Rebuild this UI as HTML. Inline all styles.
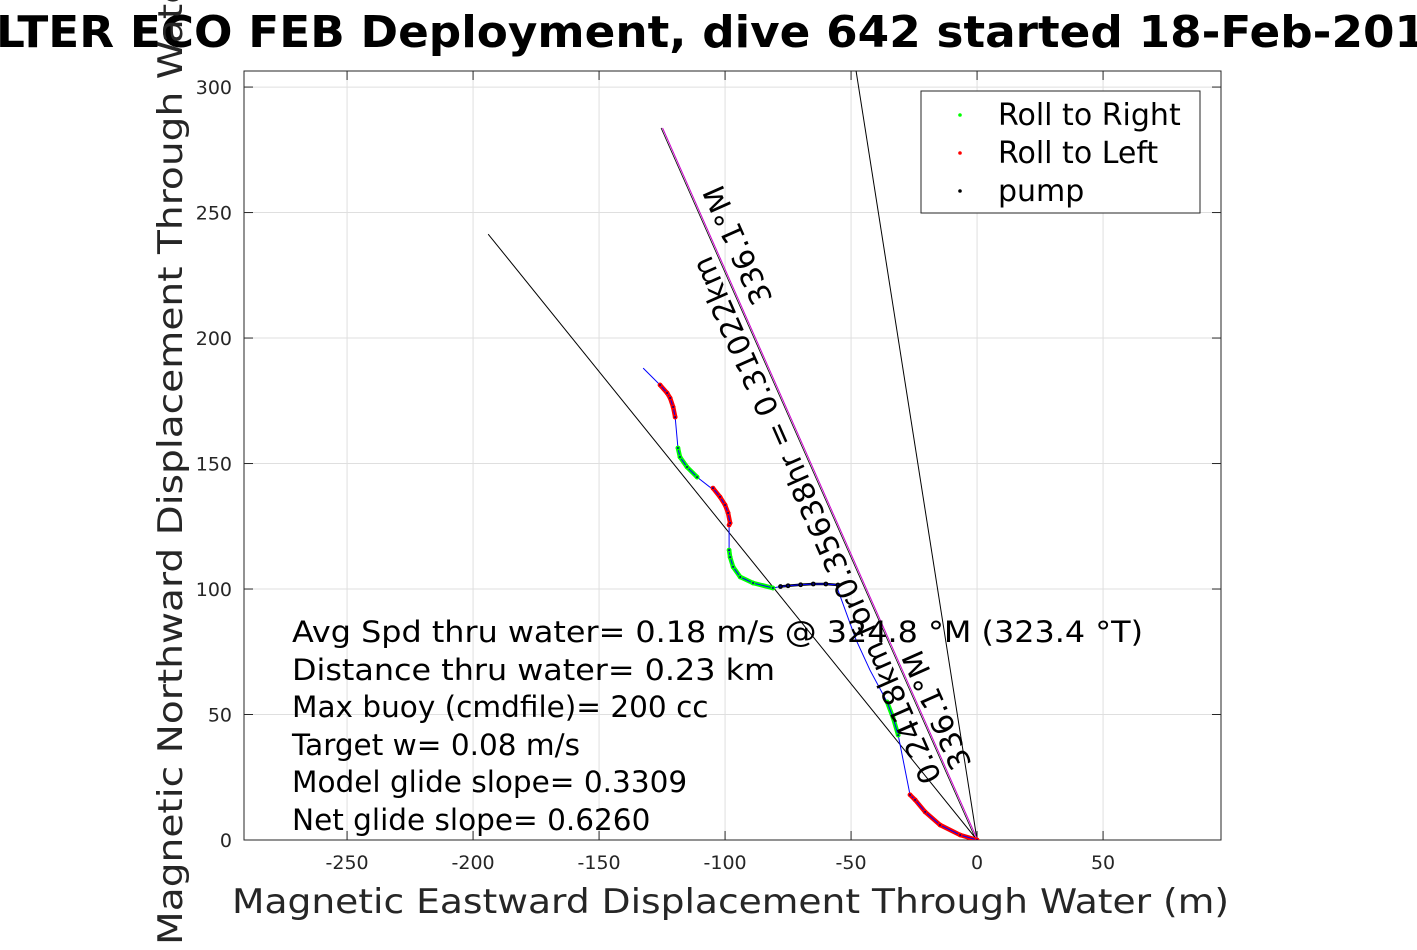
<!DOCTYPE html>
<html><head><meta charset="utf-8"><style>
body{margin:0;background:#fff}
svg text{font-family:"DejaVu Sans","Liberation Sans",sans-serif}
</style></head><body>
<svg id="chart" width="1417" height="945" xmlns="http://www.w3.org/2000/svg">
<rect width="1417" height="945" fill="#fff"/>
<text x="-4" y="47" font-size="44" font-weight="bold" textLength="1430" lengthAdjust="spacingAndGlyphs">LTER ECO FEB Deployment, dive 642 started 18-Feb-201</text>
<g id="grid"></g>
<g id="axes"></g>
<g id="marks"></g>
<text x="232" y="913" font-size="34" fill="#262626" textLength="997" lengthAdjust="spacingAndGlyphs">Magnetic Eastward Displacement Through Water (m)</text>
<text transform="translate(182,945) rotate(-90)" font-size="34" fill="#262626" textLength="1050" lengthAdjust="spacingAndGlyphs">Magnetic Northward Displacement Through Water(m)</text>
<g font-size="29.5" xml:space="preserve" style="white-space:pre">
<text x="292" y="642" textLength="851" lengthAdjust="spacingAndGlyphs">Avg Spd thru water=  0.18 m/s @ 324.8 °M (323.4 °T)</text>
<text x="292" y="680" textLength="483" lengthAdjust="spacingAndGlyphs">Distance thru water=  0.23 km</text>
<text x="292" y="717">Max buoy (cmdfile)= 200 cc</text>
<text x="292" y="755">Target w= 0.08 m/s</text>
<text x="292" y="792">Model glide slope= 0.3309</text>
<text x="292" y="830">Net glide slope= 0.6260</text>
</g>
<g>
<rect x="921" y="91" width="279" height="122" fill="#fff" stroke="#262626" stroke-width="1"/>
<circle cx="960" cy="115" r="1.8" fill="#00ff00"/>
<text x="998" y="125" font-size="30">Roll to Right</text>
<circle cx="960" cy="153" r="1.8" fill="#ff0000"/>
<text x="998" y="163" font-size="30">Roll to Left</text>
<circle cx="960" cy="191" r="1.8" fill="#000"/>
<text x="998" y="201" font-size="30">pump</text>
</g>
</svg>
<script>
const xTicks=[-250,-200,-150,-100,-50,0,50];
const yTicks=[0,50,100,150,200,250,300];
const trackE=[0,-6.7,-14.7,-20.6,-24.6,-26.6,-31.3,-33.3,-35.7,-42.5,-48,-55.2,-55.2,-60,-65,-70,-75,-78,-81,-88.9,-94,-96.8,-98,-98.4,-98.4,-98,-98.8,-100,-102,-104.8,-106,-111.1,-115.1,-117.9,-118.7,-119.8,-120.6,-121.8,-123,-125.8,-132.5];
const trackN=[0,2,6,11.2,16,18,41.8,48.6,55,67.7,79.7,99.6,101.6,102,102,101.7,101.3,101,100.4,102.4,104.8,108.8,112.7,115.5,125.5,126.3,130.3,133.5,136.7,140.2,140.6,144.6,148.6,152.6,156.2,168.5,172.5,176.1,178.1,181.3,188];
const trackMode=['L','L','L','L','L','L','R','R','R','N','N','N','P','P','P','P','P','P','R','R','R','R','R','R','L','L','L','L','L','L','N','R','R','R','R','L','L','L','L','L','N'];
const headingEnd=[-125,283.7];
const netLineEnd=[-194,241.4];
const steepLineEnd=[-57.5,367];
const X0=-290.9,X1=96.8,Y0=0,Y1=306.4;
const PL=244,PR=1221,PT=71,PB=840;
const sx=v=>PL+(v-X0)/(X1-X0)*(PR-PL);
const sy=v=>PB-(v-Y0)/(Y1-Y0)*(PB-PT);
const NS='http://www.w3.org/2000/svg';
function mk(tag,attrs,parent){const e=document.createElementNS(NS,tag);for(const k in attrs)e.setAttribute(k,attrs[k]);parent.appendChild(e);return e;}
const grid=document.getElementById('grid'),axes=document.getElementById('axes'),marks=document.getElementById('marks');
xTicks.forEach(t=>{
 const x=sx(t);
 const g=mk('line',{x1:x,x2:x,y1:PT,y2:PB,stroke:'#dfdfdf','stroke-width':1},grid);
 
 
 const tk=mk('line',{x1:x,x2:x,y1:PB,y2:PB-9,stroke:'#262626'},axes);
 
 
 const tk2=mk('line',{x1:x,x2:x,y1:PT,y2:PT+9,stroke:'#262626'},axes);
 
 
 const l=mk('text',{x:x,y:869,'font-size':19,fill:'#262626','text-anchor':'middle'},axes);
 l.textContent=t;
 
 
});
yTicks.forEach(t=>{
 const y=sy(t);
 const g=mk('line',{x1:PL,x2:PR,y1:y,y2:y,stroke:'#dfdfdf','stroke-width':1},grid);
 
 
 const tk=mk('line',{x1:PL,x2:PL+9,y1:y,y2:y,stroke:'#262626'},axes);
 
 
 const tk2=mk('line',{x1:PR,x2:PR-9,y1:y,y2:y,stroke:'#262626'},axes);
 
 
 const l=mk('text',{x:232,y:y+7,'font-size':19,fill:'#262626','text-anchor':'end'},axes);
 l.textContent=t;
 
 
});
const box=mk('rect',{x:PL,y:PT,width:PR-PL,height:PB-PT,fill:'none',stroke:'#262626','stroke-width':1},axes);


mk('clipPath',{id:'clip'},marks);
mk('rect',{x:PL,y:PT,width:PR-PL,height:PB-PT},document.getElementById('clip'));
const cg=mk('g',{'clip-path':'url(#clip)'},marks);
const l1=mk('line',{x1:sx(0),y1:sy(0),x2:sx(netLineEnd[0]),y2:sy(netLineEnd[1]),stroke:'#000','stroke-width':1},cg);


const l2=mk('line',{x1:sx(0),y1:sy(0),x2:sx(steepLineEnd[0]),y2:sy(steepLineEnd[1]),stroke:'#000','stroke-width':1},cg);


const l3=mk('line',{x1:sx(0)-1,y1:sy(0),x2:sx(headingEnd[0])-1,y2:sy(headingEnd[1]),stroke:'#000','stroke-width':0.8},cg);


const l4=mk('line',{x1:sx(0)+0.5,y1:sy(0),x2:sx(headingEnd[0])+0.5,y2:sy(headingEnd[1]),stroke:'#cc00cc','stroke-width':1},cg);


const col={L:'#ff0000',R:'#00ff00',P:'#000000'};
// colored runs of same mode
for(let i=0;i<trackE.length-1;i++){
 const m=trackMode[i];
 if(col[m]&&trackMode[i+1]===m){
  const s=mk('line',{x1:sx(trackE[i]),y1:sy(trackN[i]),x2:sx(trackE[i+1]),y2:sy(trackN[i+1]),stroke:col[m],'stroke-width':m==='P'?2.5:4.5,'stroke-linecap':'round'},cg);
  
  
 }
}
const pts=trackE.map((e,i)=>sx(e)+','+sy(trackN[i])).join(' ');
const pl=mk('polyline',{points:pts,fill:'none',stroke:'#0000ff','stroke-width':1},cg);


trackE.forEach((e,i)=>{
 const m=trackMode[i];if(!col[m])return;
 const c=mk('circle',{cx:sx(e),cy:sy(trackN[i]),r:2.4,fill:col[m]},cg);
 
 
 const d=mk('circle',{cx:sx(e),cy:sy(trackN[i]),r:1,fill:'#00008b'},cg);
 
 
});
const ang=Math.atan2(sy(headingEnd[1])-sy(0),sx(headingEnd[0])-sx(0))*180/Math.PI;
const t1=mk('text',{transform:`translate(942,778) rotate(${ang})`,'font-size':30},marks);
t1.textContent='0.2418km for0.35638hr = 0.31022km';


const t2=mk('text',{transform:`translate(972,764) rotate(${ang})`,'font-size':30},marks);
t2.textContent='336.1°M';


const t3=mk('text',{transform:`translate(773,299) rotate(${ang})`,'font-size':30},marks);
t3.textContent='336.1°M';


</script>
</body></html>
